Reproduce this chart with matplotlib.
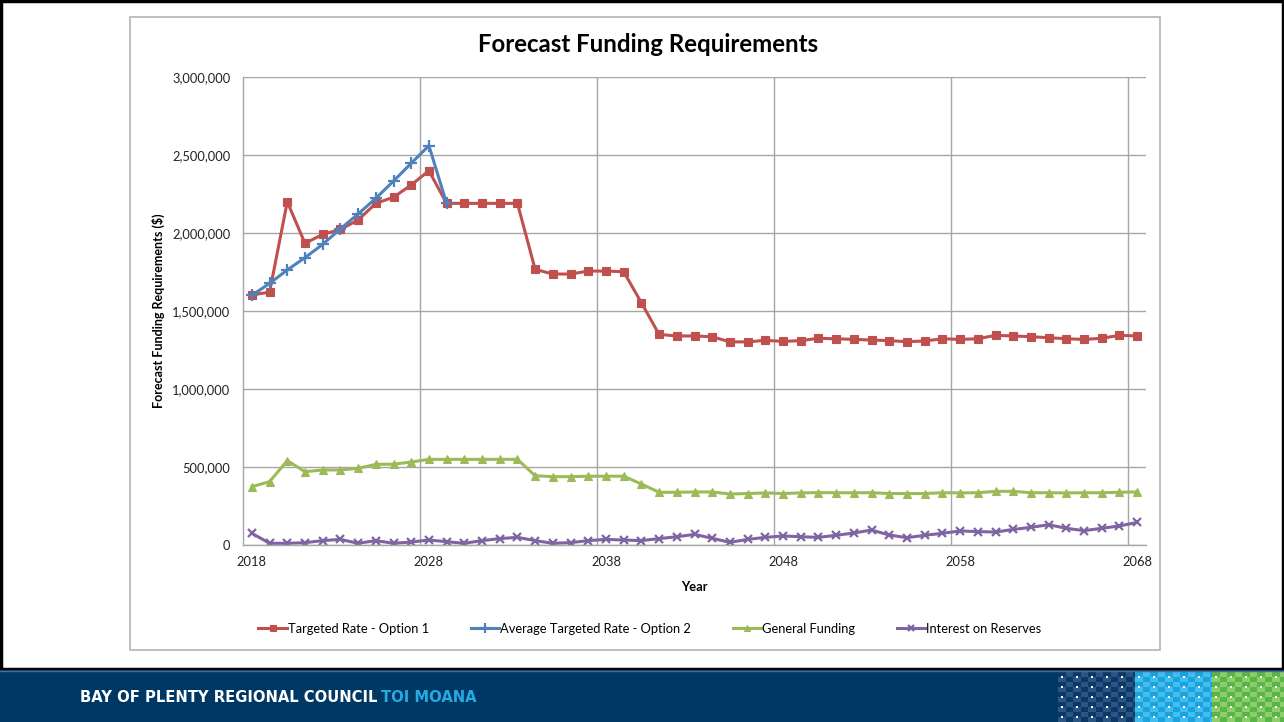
import numpy as np
import matplotlib
matplotlib.use("Agg")
import matplotlib.pyplot as plt
from matplotlib.patches import Rectangle
from matplotlib.ticker import FuncFormatter, MultipleLocator

plt.rcParams["font.family"] = ["Lato", "DejaVu Sans"]

YEARS = list(range(2018, 2069))
X_LABELS = ["2018", "2028", "2038", "2048", "2058", "2068"]

TARGETED_RATE_OPT1 = [
    1604000, 1620000, 2200000, 1934000, 1991000, 2023000, 2083000, 2190000,
    2229000, 2308000, 2399000, 2190000, 2190000, 2190000, 2190000, 2190000,
    1767000, 1737000, 1737000, 1756000, 1756000, 1752000, 1553000, 1350000,
    1340000, 1340000, 1335000, 1302000, 1302000, 1312000, 1305000, 1310000,
    1325000, 1322000, 1318000, 1314000, 1310000, 1303000, 1308000, 1322000,
    1318000, 1322000, 1344000, 1340000, 1335000, 1329000, 1322000, 1318000,
    1325000, 1344000, 1340000,
]

# option 2 only runs until 2029
AVG_TARGETED_RATE_OPT2 = [
    1600000, 1677000, 1763000, 1842000, 1927000, 2026000, 2122000, 2222000,
    2333000, 2447000, 2560000, 2190000,
] + [np.nan] * 39

GENERAL_FUNDING = [
    374000, 406000, 541000, 470000, 481000, 481000, 491000, 517000,
    518000, 532000, 549000, 549000, 549000, 549000, 549000, 549000,
    444000, 438000, 438000, 441000, 441000, 441000, 391000, 338000,
    338000, 340000, 340000, 327000, 330000, 334000, 330000, 334000,
    336000, 335000, 335000, 335000, 330000, 330000, 330000, 335000,
    334000, 335000, 344000, 344000, 335000, 335000, 334000, 335000,
    335000, 338000, 340000,
]

INTEREST_ON_RESERVES = [
    75000, 11000, 11000, 15000, 28000, 36000, 11000, 28000,
    11000, 19000, 32000, 21000, 11000, 28000, 41000, 49000,
    28000, 11000, 15000, 28000, 36000, 32000, 28000, 41000,
    53000, 68000, 43000, 17000, 36000, 49000, 58000, 53000,
    49000, 62000, 77000, 96000, 64000, 47000, 62000, 75000,
    90000, 86000, 83000, 100000, 113000, 130000, 107000, 92000,
    107000, 122000, 145000,
]

SERIES = [
    ("Targeted Rate - Option 1", TARGETED_RATE_OPT1, "#C0504D", "s", 5.8),
    ("Average Targeted Rate - Option 2", AVG_TARGETED_RATE_OPT2, "#4F81BD", "+", 9),
    ("General Funding", GENERAL_FUNDING, "#9BBB59", "^", 6),
    ("Interest on Reserves", INTEREST_ON_RESERVES, "#8064A2", "x", 6),
]

W, H = 1284, 722
fig = plt.figure(figsize=(W / 100, H / 100), dpi=100)
fig.patch.set_facecolor("white")

# slide furniture drawn in pixel coordinates
bg = fig.add_axes([0, 0, 1, 1], zorder=0)
bg.set_xlim(0, W)
bg.set_ylim(H, 0)
bg.axis("off")

bg.add_patch(Rectangle((1, 1), W - 2.5, 668, fill=False, ec="black", lw=2.5))
bg.add_patch(Rectangle((130, 17), 1030, 633, fill=False, ec="#b3b3b3", lw=1.2))

# footer banner
bg.add_patch(Rectangle((0, 670), W, 52, fc="#003865", ec="none"))
bg.plot([0, W], [670.5, 670.5], color="#4a6f94", lw=1)
org = bg.text(80, 697, "BAY OF PLENTY REGIONAL COUNCIL", color="white",
              fontsize=10.6, fontweight="bold", family="DejaVu Sans",
              va="center", ha="left")
fig.canvas.draw()
org_end = bg.transData.inverted().transform(
    (org.get_window_extent().x1, 0))[0]
bg.text(org_end + 4, 697, "TOI MOANA", color="#27aae1", fontsize=10.6,
        fontweight="bold", family="DejaVu Sans", va="center", ha="left")

# woven dot pattern in the footer corner
blocks = [
    (1058, 1135, "#2b5684", "#0b3866"),
    (1135, 1212, "#43bdee", "#1aa3dc"),
    (1212, 1284, "#8fcc6b", "#57b645"),
]
for x0, x1, light, dark in blocks:
    bg.add_patch(Rectangle((x0, 672), x1 - x0, 50, fc=light, ec="none"))
    for i, cx in enumerate(np.arange(x0, x1, 7.5)):
        for j, cy in enumerate(np.arange(672, 722, 5)):
            if (i + j) % 2 == 0:
                w = min(7.5, x1 - cx)
                bg.add_patch(Rectangle((cx, cy), w, 5, fc=dark, ec="none"))
    for cx in np.arange(x0 + 4, x1, 15):
        for cy in np.arange(677, 722, 10):
            bg.add_patch(Rectangle((cx - 1, cy - 1), 2, 2, fc="white", ec="none"))

# chart
left, right = 243 / W, 1146 / W
bottom, top = 1 - 545 / H, 1 - 77 / H
ax = fig.add_axes([left, bottom, right - left, top - bottom], zorder=2)
ax.patch.set_alpha(0)

x = np.arange(len(YEARS))
for name, values, color, marker, ms in SERIES:
    mew = 1.6 if marker in ("+", "x") else 0.8
    ax.plot(x, values, color=color, lw=2.2, marker=marker, markersize=ms,
            markeredgewidth=mew, markerfacecolor=color, markeredgecolor=color,
            label=name)

ax.set_xlim(-0.5, len(YEARS) - 0.5)
ax.set_ylim(0, 3000000)
ax.yaxis.set_major_locator(MultipleLocator(500000))
ax.yaxis.set_major_formatter(FuncFormatter(lambda v, p: f"{int(v):,}"))

label_pos = [YEARS.index(int(s)) for s in X_LABELS]
ax.set_xticks(label_pos)
ax.set_xticklabels(X_LABELS)
ax.set_xticks(np.arange(9.5, len(YEARS), 10), minor=True)

ax.grid(axis="y", which="major", color="#a6a6a6", lw=1)
ax.grid(axis="x", which="minor", color="#a6a6a6", lw=1)
ax.tick_params(axis="both", which="both", length=0, labelsize=9.3,
               colors="#222222")
ax.tick_params(axis="y", pad=9)
ax.tick_params(axis="x", pad=8)
for side in ("top", "right"):
    ax.spines[side].set_visible(False)
for side in ("left", "bottom"):
    ax.spines[side].set_color("#a6a6a6")
    ax.spines[side].set_linewidth(1)
ax.set_axisbelow(True)

ax.set_xlabel("Year", fontsize=9.3, fontweight="bold", labelpad=9)
ax.set_ylabel("Forecast Funding Requirements ($)", fontsize=9,
              fontweight="bold", labelpad=5)

fig.text(648 / W, 1 - 45 / H, "Forecast Funding Requirements", fontsize=17.3,
         fontweight="bold", ha="center", va="center")

ax.legend(loc="center", bbox_to_anchor=(650 / W, 1 - 629 / H),
          bbox_transform=fig.transFigure, ncol=4, frameon=False,
          fontsize=9.3, handlelength=2.2, handletextpad=0.1,
          columnspacing=3.2, markerscale=0.8)

fig.savefig("out.png", dpi=100)
